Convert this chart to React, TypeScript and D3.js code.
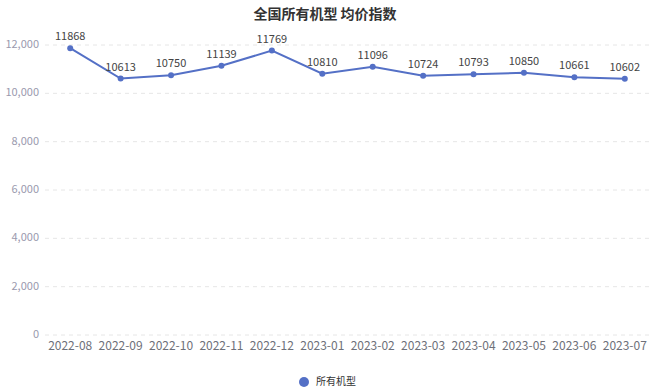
import React, { useMemo } from 'react';
import * as d3 from 'd3';

const months = [
  '2022-08', '2022-09', '2022-10', '2022-11', '2022-12', '2023-01',
  '2023-02', '2023-03', '2023-04', '2023-05', '2023-06', '2023-07',
];
const priceIndex = [11868, 10613, 10750, 11139, 11769, 10810, 11096, 10724, 10793, 10850, 10661, 10602];
const yTicks = [0, 2000, 4000, 6000, 8000, 10000, 12000];

const W = 650;
const H = 392;
const GRID = { left: 45, right: 650, top: 45, bottom: 335 };
const LINE_COLOR = '#5470c6';
const FONT = '"Microsoft YaHei", "Noto Sans CJK SC", "Noto Sans", sans-serif';

export default function App() {
  const x = useMemo(
    () => d3.scaleBand<string>().domain(months).range([GRID.left, GRID.right]),
    []
  );
  const y = useMemo(
    () => d3.scaleLinear().domain([0, 12000]).range([GRID.bottom, GRID.top]),
    []
  );
  const cx = (m: string) => (x(m) ?? 0) + x.bandwidth() / 2;

  const path = d3
    .line<number>()
    .x((_, i) => cx(months[i]))
    .y((d) => y(d))(priceIndex);

  const fmt = d3.format(',');

  return (
    <svg
      width={W}
      height={H}
      style={{ position: 'absolute', left: 0, top: 0, fontFamily: FONT }}
    >
      <rect width={W} height={H} fill="#fff" />

      {/* title */}
      <text x={W / 2} y={19} textAnchor="middle" fontSize={14} fontWeight="bold" fill="#333">
        全国所有机型 均价指数
      </text>

      {/* grid + y labels */}
      {yTicks.map((t) => (
        <g key={t}>
          <line
            x1={GRID.left}
            x2={GRID.right}
            y1={y(t)}
            y2={y(t)}
            stroke="#e6e6e6"
            strokeDasharray="4,4"
          />
          <text
            x={GRID.left - 6}
            y={y(t)}
            textAnchor="end"
            dominantBaseline="middle"
            fontSize={11}
            fill="#9a9aae"
          >
            {fmt(t)}
          </text>
        </g>
      ))}

      {/* x labels */}
      {months.map((m) => (
        <text
          key={m}
          x={cx(m)}
          y={GRID.bottom + 15}
          textAnchor="middle"
          fontSize={12}
          fill="#6e7079"
        >
          {m}
        </text>
      ))}

      {/* line */}
      <path d={path ?? ''} fill="none" stroke={LINE_COLOR} strokeWidth={2} />
      {priceIndex.map((v, i) => (
        <g key={months[i]}>
          <circle cx={cx(months[i])} cy={y(v)} r={3} fill={LINE_COLOR} />
          <text
            x={cx(months[i])}
            y={y(v) - 8}
            textAnchor="middle"
            fontSize={11}
            fill="#444"
          >
            {v}
          </text>
        </g>
      ))}

      {/* legend */}
      <circle cx={304} cy={382} r={5} fill={LINE_COLOR} />
      <text x={316} y={382} dominantBaseline="middle" fontSize={10} fill="#333">
        所有机型
      </text>
    </svg>
  );
}
